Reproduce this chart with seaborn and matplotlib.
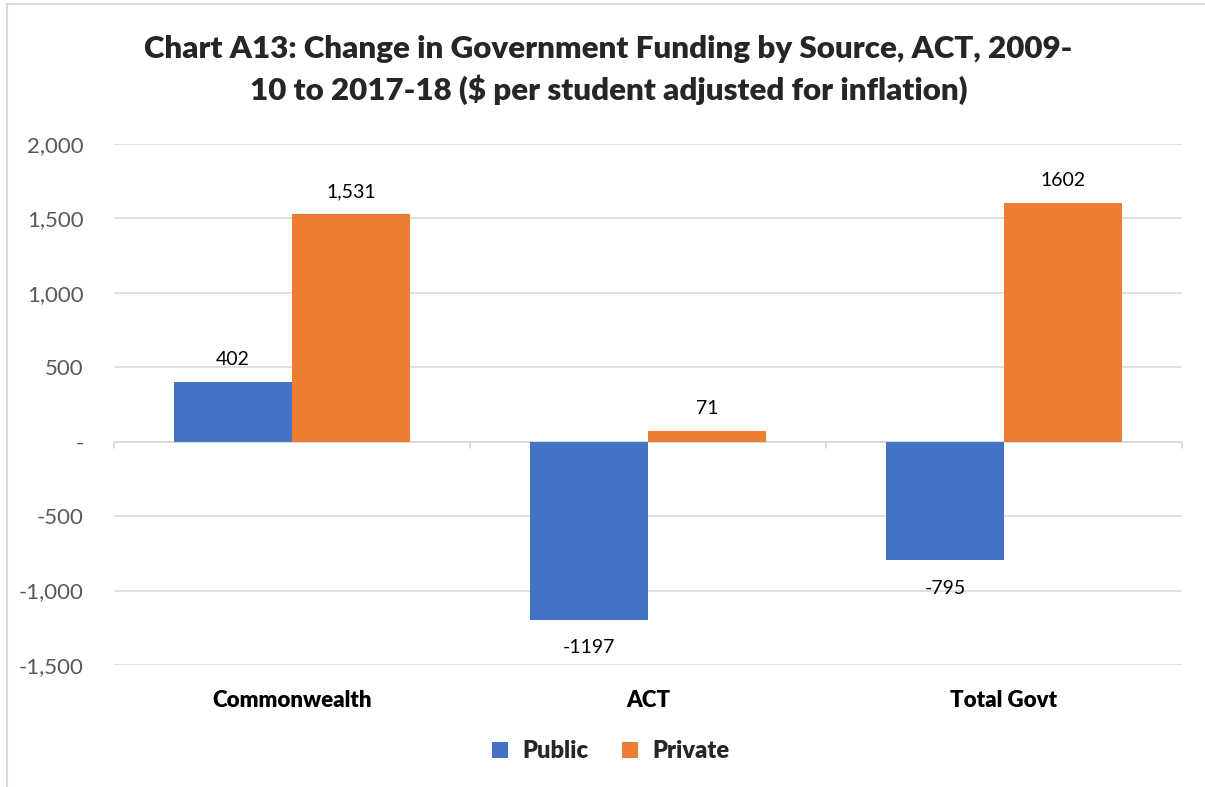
import matplotlib
matplotlib.use("Agg")
import matplotlib.pyplot as plt
import seaborn as sns
import pandas as pd
from matplotlib.lines import Line2D

# Data: change in government funding per student (inflation adjusted)
categories = ["Commonwealth", "ACT", "Total Govt"]
public_values = [402, -1197, -795]
private_values = [1531, 71, 1602]
public_labels = ["402", "-1197", "-795"]
private_labels = ["1,531", "71", "1602"]
series_names = ["Public", "Private"]
y_ticks = [-1500, -1000, -500, 0, 500, 1000, 1500, 2000]
y_tick_labels = ["-1,500", "-1,000", "-500", "-", "500", "1,000", "1,500", "2,000"]

colors = {"Public": "#4472C4", "Private": "#ED7D31"}

df = pd.DataFrame({
    "Category": categories * 2,
    "Source": [series_names[0]] * 3 + [series_names[1]] * 3,
    "Value": public_values + private_values,
})

sns.set_theme(style="white")
plt.rcParams["font.family"] = ["Lato", "DejaVu Sans"]

fig = plt.figure(figsize=(12.05, 7.87), dpi=100)
ax = fig.add_axes([0.0946, 0.155, 0.8863, 0.662])

sns.barplot(data=df, x="Category", y="Value", hue="Source", order=categories,
            hue_order=series_names, palette=colors, width=0.663, saturation=1,
            errorbar=None, ax=ax, legend=False, linewidth=0)

ax.set_ylim(-1500, 2000)
ax.set_xlim(-0.5, len(categories) - 0.5)
ax.set_yticks(y_ticks)
ax.set_yticklabels(y_tick_labels, color="#595959", fontsize=16)
ax.tick_params(axis="y", length=0, pad=22)
ax.tick_params(axis="x", length=0, pad=18)
for lbl in ax.get_xticklabels():
    lbl.set_fontweight("heavy")
    lbl.set_fontsize(16)
    lbl.set_color("black")
ax.set_xlabel("")
ax.set_ylabel("")
for s in ax.spines.values():
    s.set_visible(False)
ax.grid(axis="y", color="#d9d9d9", linewidth=1.2)
ax.set_axisbelow(True)

# zero axis line with category boundary tick marks
ax.axhline(0, color="#d9d9d9", linewidth=1.2, zorder=0.5)
for b in range(len(categories) + 1):
    ax.plot([b - 0.5, b - 0.5], [0, -40], color="#d9d9d9", linewidth=1.2,
            clip_on=False, zorder=0.5)

# value labels
label_sets = [public_labels, private_labels]
for container, labels in zip(ax.containers, label_sets):
    for rect, text in zip(container, labels):
        h = rect.get_height()
        x = rect.get_x() + rect.get_width() / 2
        if h >= 0:
            ax.annotate(text, (x, h), xytext=(0, 10), textcoords="offset points",
                        ha="center", va="bottom", fontsize=14, color="black")
        else:
            ax.annotate(text, (x, h), xytext=(0, -14), textcoords="offset points",
                        ha="center", va="top", fontsize=14, color="black")

fig.suptitle("Chart A13: Change in Government Funding by Source, ACT, 2009-\n"
             "10 to 2017-18 ($ per student adjusted for inflation)",
             x=0.505, y=0.955, fontsize=22.5, fontweight="heavy", linespacing=1.45)

handles = [Line2D([], [], marker="s", linestyle="none", markersize=12,
                  markerfacecolor=colors[n], markeredgewidth=0) for n in series_names]
fig.legend(handles, series_names, loc="center", bbox_to_anchor=(0.505, 0.046),
           ncol=2, frameon=False, prop={"weight": "heavy", "size": 17},
           handletextpad=0.4, columnspacing=1.2, handlelength=1.1)

# outer chart frame
fig.add_artist(Line2D([0.006, 0.006], [0, 0.995], transform=fig.transFigure,
                      color="#d9d9d9", linewidth=1.5))
fig.add_artist(Line2D([0.006, 1.0], [0.995, 0.995], transform=fig.transFigure,
                      color="#d9d9d9", linewidth=1.5))

fig.savefig("out.png", dpi=100, facecolor="white")
